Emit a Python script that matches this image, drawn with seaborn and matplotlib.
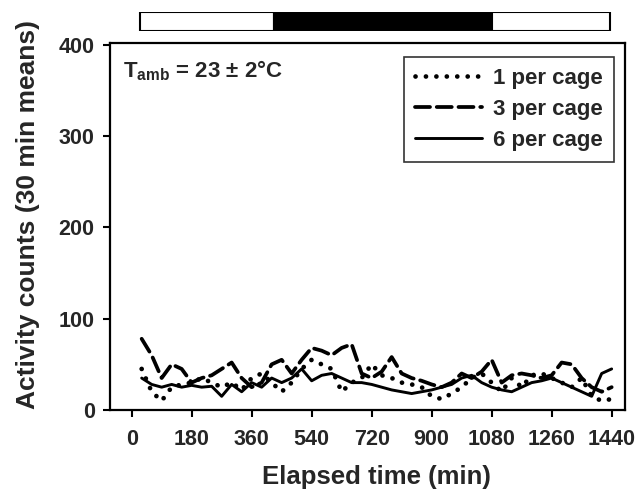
import numpy as np
import pandas as pd
import matplotlib
matplotlib.use("Agg")
import matplotlib.pyplot as plt
import seaborn as sns

# ---- data ----
time_min = list(range(30, 1441, 30))
one_per_cage = [45, 20, 10, 25, 28, 30, 35, 30, 25, 30, 22, 35, 40, 30, 20, 30,
                45, 55, 50, 45, 20, 30, 35, 50, 38, 35, 30, 28, 25, 15, 12, 18,
                25, 35, 40, 30, 20, 35, 25, 38, 40, 35, 30, 25, 35, 15, 10, 12]
three_per_cage = [78, 60, 35, 50, 45, 30, 35, 38, 45, 52, 35, 25, 30, 50, 55, 40,
                  55, 68, 65, 60, 68, 72, 40, 35, 42, 58, 40, 35, 32, 28, 25, 30,
                  40, 35, 42, 55, 30, 38, 40, 38, 35, 38, 52, 50, 35, 25, 20, 25]
six_per_cage = [35, 28, 25, 28, 25, 27, 25, 26, 15, 28, 20, 30, 25, 35, 30, 35,
                45, 32, 38, 40, 35, 30, 30, 28, 25, 22, 20, 18, 20, 22, 25, 28,
                35, 38, 30, 25, 22, 20, 25, 30, 32, 35, 30, 25, 20, 15, 40, 45]
series_labels = ["1 per cage", "3 per cage", "6 per cage"]
x_ticks = [0, 180, 360, 540, 720, 900, 1080, 1260, 1440]
y_ticks = [0, 100, 200, 300, 400]
# light/dark schedule bar
phase_start = [24, 426, 1080]
phase_end = [426, 1080, 1435]
phase_color = ["white", "black", "white"]

sns.set_theme(style="ticks")
plt.rcParams["font.family"] = ["Liberation Sans", "DejaVu Sans"]
plt.rcParams["font.weight"] = "bold"
plt.rcParams["mathtext.fontset"] = "custom"
plt.rcParams["mathtext.rm"] = "Liberation Sans:bold"
plt.rcParams["mathtext.bf"] = "Liberation Sans:bold"

fig = plt.figure(figsize=(6.44, 4.98), dpi=100)
ax = fig.add_axes([110 / 644, 1 - 410 / 498, 515 / 644, 367 / 498])
bar_ax = fig.add_axes([110 / 644, 1 - 31 / 498, 515 / 644, 19 / 498])

df = pd.DataFrame({
    "t": time_min * 3,
    "v": one_per_cage + three_per_cage + six_per_cage,
    "g": [series_labels[0]] * len(time_min) + [series_labels[1]] * len(time_min)
         + [series_labels[2]] * len(time_min),
})

styles = {
    series_labels[0]: dict(lw=3.4, dashes=(0.01, 2.2)),
    series_labels[1]: dict(lw=2.7, dashes=(4.0, 1.8)),
    series_labels[2]: dict(lw=2.1, dashes=None),
}
for lab in series_labels:
    sub = df[df["g"] == lab]
    st = styles[lab]
    sns.lineplot(data=sub, x="t", y="v", ax=ax, color="black", lw=st["lw"],
                 label=lab, legend=False)
    line = ax.lines[-1]
    if st["dashes"] is not None:
        line.set_dashes(st["dashes"])
    line.set_dash_capstyle("round")
    line.set_solid_capstyle("round")
    line.set_solid_joinstyle("round")

ax.set_xlim(-65, 1480)
ax.set_ylim(0, 402)
ax.set_xticks(x_ticks)
ax.set_yticks(y_ticks)
ax.tick_params(axis="both", direction="out", length=5, width=1.5, color="black",
               labelsize=15.5, pad=6)
ax.tick_params(axis="x", pad=9)
for lbl in ax.get_xticklabels() + ax.get_yticklabels():
    lbl.set_fontweight("bold")
for sp in ax.spines.values():
    sp.set_visible(True)
    sp.set_color("black")
    sp.set_linewidth(1.6)

ax.set_xlabel("Elapsed time (min)", fontsize=18.5, fontweight="bold")
ax.set_ylabel("Activity counts (30 min means)", fontsize=19, fontweight="bold")
ax.xaxis.set_label_coords(0.517, -0.150)
ax.yaxis.set_label_coords(-0.135, 0.534)

ax.text(0.025, 0.925, r"T$_\mathrm{amb}$ = 23 ± 2°C", transform=ax.transAxes,
        fontsize=16, fontweight="bold", ha="left", va="center")

leg = ax.legend(loc="upper right", bbox_to_anchor=(0.9786, 0.9619),
                borderaxespad=0, frameon=True, fancybox=False,
                handlelength=3.0, labelspacing=0.45, handletextpad=0.5,
                borderpad=0.5, prop={"weight": "bold", "size": 16})
leg.get_frame().set_edgecolor("black")
leg.get_frame().set_linewidth(1.2)
for h in leg.get_lines():
    h.set_dash_capstyle("round")

# schedule bar
bar_ax.barh([0] * 3, [e - s for s, e in zip(phase_start, phase_end)],
            left=phase_start, height=1.0, color=phase_color,
            edgecolor="black", linewidth=1.5)
bar_ax.set_xlim(ax.get_xlim())
bar_ax.set_ylim(-0.5, 0.5)
bar_ax.axis("off")

fig.savefig("out.png", dpi=100)
